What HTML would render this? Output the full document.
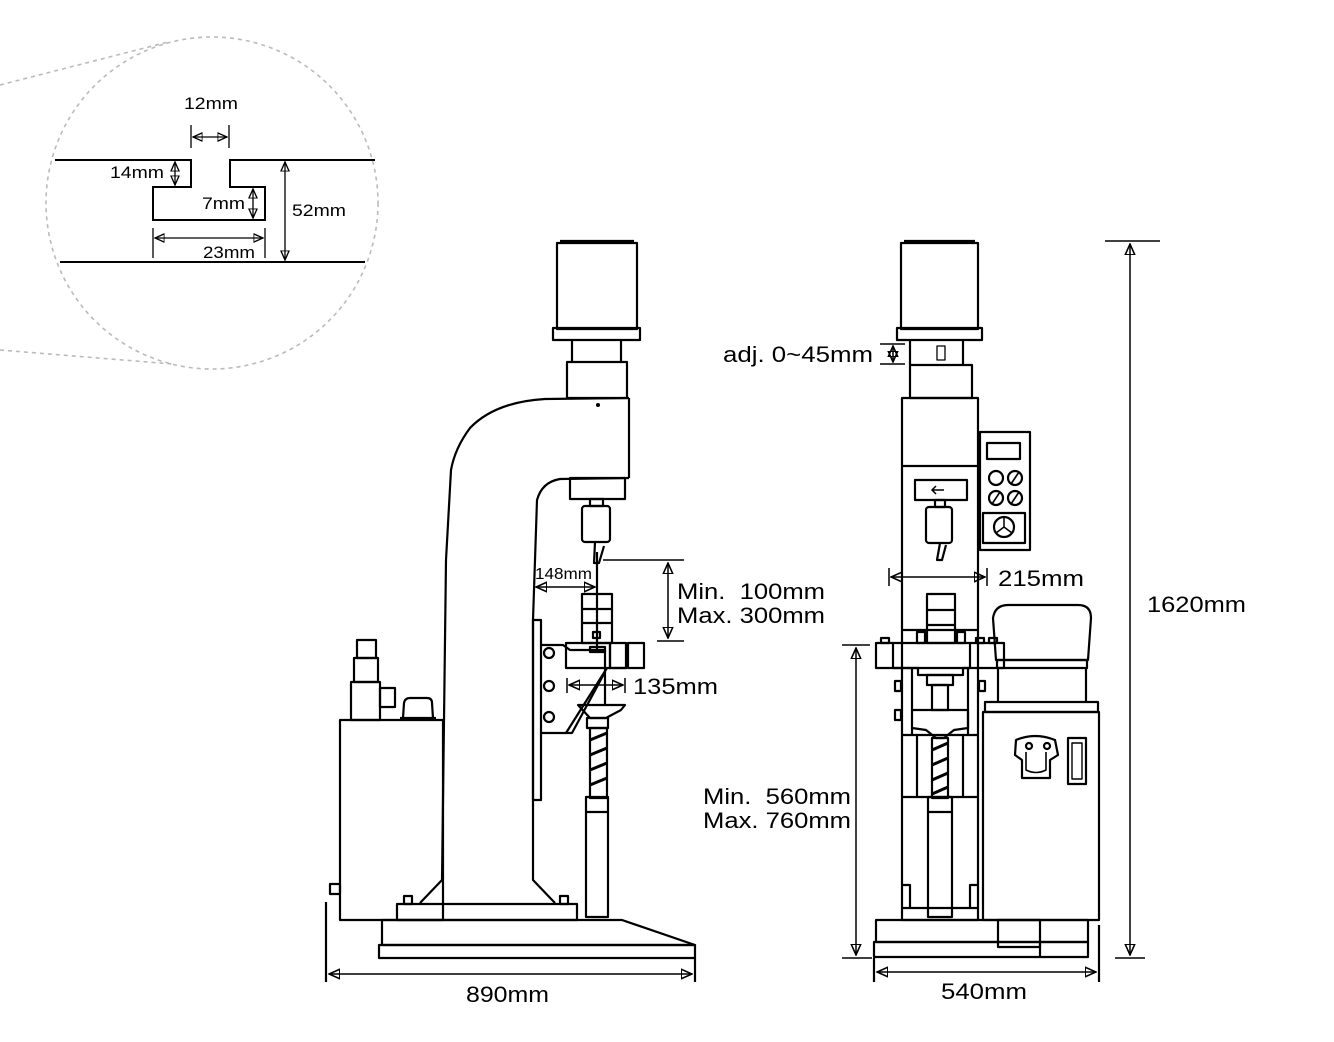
<!DOCTYPE html>
<html><head><meta charset="utf-8"><style>
html,body{margin:0;padding:0;background:#fff}
svg{display:block}
text{font-family:"Liberation Sans",sans-serif;fill:#000}
</style></head><body>
<svg width="1334" height="1042" viewBox="0 0 1334 1042" xmlns="http://www.w3.org/2000/svg">
<defs>
<marker id="a" viewBox="0 0 10 10" refX="9" refY="5" markerWidth="8" markerHeight="8" orient="auto-start-reverse"><path d="M0,1 L9,5 L0,9 Z" fill="none" stroke="#000" stroke-width="1.3"/></marker>
</defs>
<g fill="none" stroke="#bbb" stroke-width="1.6" stroke-dasharray="4,4">
<circle cx="212" cy="203" r="166"/>
<line x1="0" y1="85" x2="168" y2="42"/>
<line x1="0" y1="350" x2="172" y2="364"/>
</g>
<g fill="none" stroke="#000" stroke-width="2">
<polyline points="55,160 191,160 191,187 153,187 153,220 265,220 265,187 230,187 230,160 375,160"/>
<line x1="60" y1="262" x2="365" y2="262"/>
</g>
<g stroke="#000" stroke-width="1.3" fill="none">
<line x1="191" y1="125" x2="191" y2="148"/><line x1="229" y1="125" x2="229" y2="148"/>
<line x1="193" y1="137" x2="227" y2="137" marker-start="url(#a)" marker-end="url(#a)"/>
<line x1="175" y1="162" x2="175" y2="185" marker-start="url(#a)" marker-end="url(#a)"/>
<line x1="253" y1="189" x2="253" y2="218" marker-start="url(#a)" marker-end="url(#a)"/>
<line x1="285" y1="162" x2="285" y2="260" marker-start="url(#a)" marker-end="url(#a)"/>
<line x1="153" y1="228" x2="153" y2="258"/><line x1="265" y1="228" x2="265" y2="258"/>
<line x1="155" y1="238" x2="263" y2="238" marker-start="url(#a)" marker-end="url(#a)"/>
</g>
<g font-size="17">
<text x="184" y="109" textLength="54" lengthAdjust="spacingAndGlyphs">12mm</text>
<text x="110" y="178" textLength="54" lengthAdjust="spacingAndGlyphs">14mm</text>
<text x="202" y="209" textLength="43" lengthAdjust="spacingAndGlyphs">7mm</text>
<text x="292" y="216" textLength="54" lengthAdjust="spacingAndGlyphs">52mm</text>
<text x="203" y="258" textLength="52" lengthAdjust="spacingAndGlyphs">23mm</text>
</g>

<g fill="none" stroke="#000" stroke-width="2.2" stroke-linejoin="round">
<rect x="557" y="243" width="80" height="86"/>
<line x1="560" y1="241" x2="634" y2="241"/>
<rect x="553" y="328" width="87" height="12"/>
<line x1="572" y1="340" x2="572" y2="362"/><line x1="621" y1="340" x2="621" y2="362"/>
<rect x="567" y="362" width="60" height="36"/>
<path d="M629,398 L545,399 Q495,402 470,428 Q455,448 451,470 L446,560 L442,880 L420,903"/>
<line x1="629" y1="398" x2="629" y2="478"/>
<path d="M629,478 L560,479 Q542,482 537,500 L533,620 L533,880 L555,903"/>
<rect x="570" y="478" width="55" height="21"/>
<rect x="590" y="499" width="13" height="7"/>
<rect x="582" y="506" width="28" height="36" rx="3"/>
<path d="M595,542 L594,563 L599,563 L604,546"/>
<line x1="597" y1="552" x2="597" y2="652"/>
<rect x="533" y="620" width="8" height="180"/>
<path d="M541,645 L563,645 L570,650 L605,650 L605,672 L572,733 L541,733"/>
<circle cx="549" cy="653" r="5"/><circle cx="549" cy="686" r="5"/><circle cx="549" cy="717" r="5"/>
<line x1="607" y1="668" x2="566" y2="733"/>
<rect x="566" y="643" width="44" height="25"/>
<rect x="610" y="643" width="16" height="25"/>
<rect x="628" y="643" width="16" height="25"/>
<rect x="582" y="594" width="30" height="49"/>
<line x1="582" y1="609" x2="612" y2="609"/><line x1="582" y1="623" x2="612" y2="623"/>
<rect x="593" y="632" width="7" height="6"/>
<rect x="590" y="647" width="15" height="5"/>
<path d="M578,705 L625,705 L621,710 L606,718 L590,718 Z"/>
<line x1="605" y1="672" x2="605" y2="705"/><line x1="609" y1="668" x2="627" y2="668"/>
<rect x="587" y="718" width="21" height="10"/>
<rect x="590" y="728" width="17" height="70"/>
<path d="M590,740 L607,733 M590,755 L607,748 M590,770 L607,763 M590,785 L607,778" stroke-width="3"/>
<rect x="586" y="797" width="22" height="120"/>
<line x1="586" y1="812" x2="608" y2="812"/>
<rect x="397" y="904" width="180" height="16"/>
<rect x="404" y="896" width="8" height="8"/><rect x="560" y="896" width="8" height="8"/>
<path d="M382,920 L622,920 L695,945 L382,945 Z"/>
<rect x="379" y="945" width="316" height="13"/>
<rect x="340" y="720" width="103" height="200"/>
<rect x="357" y="640" width="19" height="18"/>
<rect x="354" y="658" width="24" height="24"/>
<rect x="351" y="682" width="29" height="38"/>
<rect x="380" y="688" width="15" height="19"/>
<path d="M403,718 L404,703 Q405,698 410,698 L427,698 Q432,698 432,703 L433,718"/>
<line x1="400" y1="718" x2="436" y2="718"/>
<rect x="330" y="884" width="10" height="10"/>
<line x1="326" y1="902" x2="326" y2="982"/><line x1="695" y1="958" x2="695" y2="982"/>
</g>
<circle cx="598" cy="405" r="2" fill="#000"/>
<g stroke="#000" stroke-width="1.5" fill="none">
<line x1="329" y1="974" x2="692" y2="974" marker-start="url(#a)" marker-end="url(#a)"/>
<line x1="536" y1="587" x2="595" y2="587" marker-start="url(#a)" marker-end="url(#a)"/>
<line x1="603" y1="560" x2="684" y2="560"/><line x1="657" y1="641" x2="684" y2="641"/>
<line x1="668" y1="563" x2="668" y2="638" marker-start="url(#a)" marker-end="url(#a)"/>
<line x1="567" y1="678" x2="567" y2="693"/><line x1="625" y1="678" x2="625" y2="693"/>
<line x1="569" y1="685" x2="623" y2="685" marker-start="url(#a)" marker-end="url(#a)"/>
</g>
<g font-size="22">
<text x="466" y="1002" textLength="83" lengthAdjust="spacingAndGlyphs">890mm</text>
<text x="535" y="579" font-size="16" textLength="57" lengthAdjust="spacingAndGlyphs">148mm</text>
<text x="677" y="599" textLength="148" lengthAdjust="spacingAndGlyphs" xml:space="preserve">Min.  100mm</text>
<text x="677" y="623" textLength="148" lengthAdjust="spacingAndGlyphs">Max. 300mm</text>
<text x="633" y="694" textLength="85" lengthAdjust="spacingAndGlyphs">135mm</text>
</g>

<g fill="none" stroke="#000" stroke-width="2.2" stroke-linejoin="round">
<rect x="901" y="243" width="77" height="86"/>
<line x1="904" y1="241" x2="975" y2="241"/>
<rect x="897" y="328" width="85" height="12"/>
<line x1="910" y1="340" x2="910" y2="365"/><line x1="963" y1="340" x2="963" y2="365"/>
<rect x="937" y="346" width="8" height="14" stroke-width="1.3"/>
<rect x="910" y="365" width="62" height="33"/>
<rect x="902" y="398" width="76" height="522"/>
<line x1="902" y1="466" x2="978" y2="466"/>
<rect x="915" y="480" width="52" height="20"/>
<rect x="935" y="500" width="10" height="7"/>
<rect x="926" y="507" width="26" height="36" rx="3"/>
<path d="M940,543 L937,560 L942,560 L946,545"/>
<line x1="902" y1="630" x2="978" y2="630"/>
<rect x="927" y="594" width="28" height="49"/>
<line x1="927" y1="610" x2="955" y2="610"/><line x1="927" y1="625" x2="955" y2="625"/>
<rect x="917" y="632" width="8" height="11"/><rect x="957" y="632" width="8" height="11"/>
<rect x="876" y="643" width="128" height="25"/>
<line x1="893" y1="643" x2="893" y2="668"/><line x1="970" y1="643" x2="970" y2="668"/>
<rect x="881" y="638" width="8" height="5"/><rect x="976" y="638" width="8" height="5"/>
<rect x="989" y="638" width="8" height="5"/>
<path d="M893,668 L918,668 L918,675 L963,675 L963,668 L970,668"/>
<rect x="927" y="675" width="26" height="10"/>
<rect x="932" y="685" width="16" height="25"/>
<line x1="912" y1="668" x2="912" y2="735"/><line x1="968" y1="668" x2="968" y2="735"/>
<rect x="895" y="681" width="6" height="10"/><rect x="979" y="681" width="6" height="10"/>
<rect x="895" y="710" width="6" height="10"/>
<path d="M912,710 L968,710 L968,728 L954,730 L944,738 L936,738 L926,730 L912,728"/>
<line x1="902" y1="735" x2="978" y2="735"/>
<line x1="917" y1="735" x2="917" y2="797"/><line x1="963" y1="735" x2="963" y2="797"/>
<rect x="932" y="738" width="16" height="60"/>
<path d="M932,750 L948,743 M932,765 L948,758 M932,780 L948,773 M932,794 L948,787" stroke-width="3"/>
<line x1="902" y1="797" x2="978" y2="797"/>
<rect x="928" y="797" width="24" height="120"/>
<line x1="928" y1="812" x2="952" y2="812"/>
<path d="M902,885 L910,885 L910,908 M978,885 L970,885 L970,908"/>
<line x1="902" y1="908" x2="978" y2="908"/>
<rect x="980" y="432" width="50" height="118"/>
<rect x="987" y="443" width="33" height="16"/>
<circle cx="996" cy="478" r="7"/><circle cx="1015" cy="478" r="7"/>
<circle cx="996" cy="498" r="7"/><circle cx="1015" cy="498" r="7"/>
<path d="M1011,484 L1019,472 M992,504 L1000,492 M1011,504 L1019,492" stroke-width="1.6"/>
<rect x="983" y="513" width="42" height="30"/>
<circle cx="1004" cy="527" r="10"/>
<path d="M1004,517 L1004,527 L996,533 M1004,527 L1012,533" stroke-width="1.5"/>
<path d="M996,660 L993,618 Q995,605 1008,605 L1078,605 Q1091,605 1091,618 L1088,660 Z"/>
<rect x="997" y="660" width="90" height="8"/>
<line x1="998" y1="668" x2="998" y2="702"/><line x1="1086" y1="668" x2="1086" y2="702"/>
<rect x="985" y="702" width="113" height="10"/>
<rect x="983" y="712" width="116" height="208"/>
<path d="M1016,740 Q1035,732 1055,740 L1058,755 L1050,760 L1050,778 L1022,778 L1022,760 L1015,755 Z"/>
<path d="M1026,752 L1026,770 Q1036,775 1046,770 L1046,752" stroke-width="1.6"/>
<circle cx="1029" cy="746" r="3"/><circle cx="1047" cy="746" r="3"/>
<rect x="1068" y="738" width="18" height="46"/>
<rect x="1072" y="743" width="10" height="36" stroke-width="1.4"/>
<rect x="876" y="920" width="212" height="22"/>
<rect x="874" y="942" width="214" height="15"/>
<rect x="998" y="920" width="42" height="27"/>
<line x1="1040" y1="942" x2="1040" y2="957"/>
<line x1="1099" y1="925" x2="1099" y2="982"/><line x1="874" y1="958" x2="874" y2="982"/>
</g>
<g stroke="#000" stroke-width="1.5" fill="none">
<line x1="877" y1="972" x2="1096" y2="972" marker-start="url(#a)" marker-end="url(#a)"/>
<line x1="889" y1="568" x2="889" y2="586"/><line x1="987" y1="568" x2="987" y2="586"/>
<line x1="891" y1="577" x2="985" y2="577" marker-start="url(#a)" marker-end="url(#a)"/>
<line x1="842" y1="645" x2="870" y2="645"/><line x1="842" y1="958" x2="872" y2="958"/>
<line x1="856" y1="648" x2="856" y2="955" marker-start="url(#a)" marker-end="url(#a)"/>
<line x1="1105" y1="241" x2="1160" y2="241"/><line x1="1115" y1="958" x2="1145" y2="958"/>
<line x1="1130" y1="244" x2="1130" y2="955" marker-start="url(#a)" marker-end="url(#a)"/>
<line x1="880" y1="344" x2="905" y2="344"/><line x1="880" y1="364" x2="905" y2="364"/>
<line x1="893" y1="346" x2="893" y2="362" marker-start="url(#a)" marker-end="url(#a)"/>
<path d="M944,490 L932,490 M936,486 L932,490 L936,494"/>
</g>
<g font-size="22">
<text x="723" y="362" textLength="150" lengthAdjust="spacingAndGlyphs">adj. 0~45mm</text>
<text x="998" y="586" textLength="86" lengthAdjust="spacingAndGlyphs">215mm</text>
<text x="703" y="804" textLength="148" lengthAdjust="spacingAndGlyphs" xml:space="preserve">Min.  560mm</text>
<text x="703" y="828" textLength="148" lengthAdjust="spacingAndGlyphs">Max. 760mm</text>
<text x="1147" y="612" textLength="99" lengthAdjust="spacingAndGlyphs">1620mm</text>
<text x="941" y="999" textLength="86" lengthAdjust="spacingAndGlyphs">540mm</text>
</g>
</svg>
</body></html>
